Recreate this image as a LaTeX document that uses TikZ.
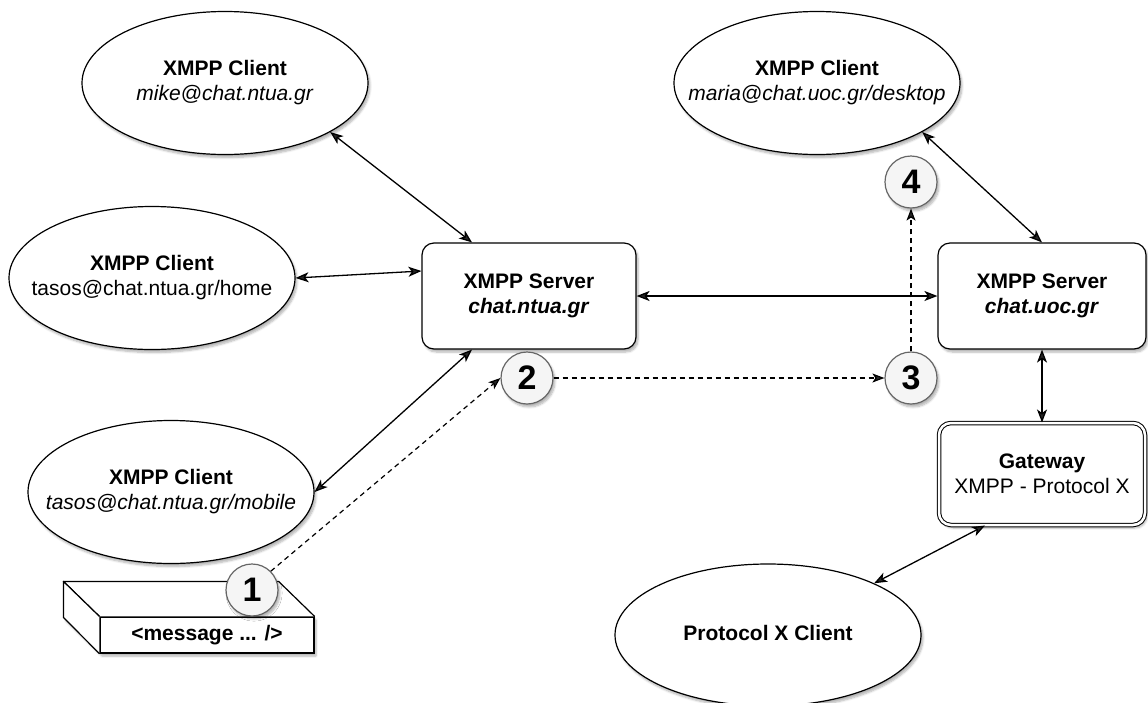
\documentclass[tikz,border=0pt]{standalone}
\usepackage{fontspec}
\setmainfont{Liberation Sans}
\usetikzlibrary{shapes.geometric,arrows.meta,shadows.blur,calc}
\newcommand\ctext[1]{\makebox[0pt]{\begin{tabular}{@{}c@{}}#1\end{tabular}}}
\begin{document}
\begin{tikzpicture}[x=1pt,y=-1pt,
  every node/.style={font=\fontsize{21}{25}\selectfont, align=center, inner sep=0pt},
  sh/.style={blur shadow={shadow xshift=2pt,shadow yshift=-3pt,shadow blur steps=6,shadow opacity=30}},
  client/.style={ellipse, draw, fill=white, line width=1.2pt, minimum width=286pt, minimum height=143pt, sh},
  server/.style={rectangle, rounded corners=12pt, draw, fill=white, line width=1.2pt, minimum width=214pt, minimum height=106pt, sh},
  gate/.style={server, double, double distance=2.5pt, line width=1pt, minimum height=102pt},
  num/.style={circle, draw=black!60, fill=black!4, line width=1.2pt, minimum size=52pt, font=\fontsize{34}{34}\selectfont\bfseries, sh},
  link/.style={line width=1.3pt, {Stealth[length=13pt,width=10pt,inset=3.5pt]}-{Stealth[length=13pt,width=10pt,inset=3.5pt]}},
  flow/.style={line width=1.2pt, dash pattern=on 5pt off 4pt, -{Stealth[length=12pt,width=9pt,inset=3pt]}}
]
\useasboundingbox (0,0) rectangle (1148,702);

% clients
\node[client] (mike) at (225,83) {\ctext{\textbf{XMPP Client}\\\textit{mike@chat.ntua.gr}}};
\node[client] (home) at (152,278) {\ctext{\textbf{XMPP Client}\\tasos@chat.ntua.gr/home}};
\node[client] (mobile) at (171,492) {\ctext{\textbf{XMPP Client}\\\textit{tasos@chat.ntua.gr/mobile}}};
\node[client] (maria) at (817,83) {\ctext{\textbf{XMPP Client}\\\textit{maria@chat.uoc.gr/desktop}}};
\node[client, minimum width=306pt, minimum height=142pt] (protx) at (768,635) {\ctext{\textbf{Protocol X Client}}};

% servers
\node[server] (ntua) at (529,296) {\textbf{XMPP Server}\\\textbf{\textit{chat.ntua.gr}}};
\node[server, minimum width=208pt] (uoc) at (1042,296) {\textbf{XMPP Server}\\\textbf{\textit{chat.uoc.gr}}};
\node[gate, minimum width=206pt] (gw) at (1042,474) {\textbf{Gateway}\\XMPP - Protocol X};

% message box
\coordinate (mc) at (207,635);
\path[fill=white, sh] ($(mc)+(-107,18)$) -- ++(-36,-35) -- ++(0,-36) -- ++(214,0) -- ($(mc)+(107,-18)$) -- ($(mc)+(107,18)$) -- cycle;
\node[draw, line width=1.2pt, minimum width=214pt, minimum height=36pt, font=\fontsize{21}{25}\selectfont\bfseries] (msg) at (mc) {<message ... />};
\draw[line width=1.2pt, fill=white, line join=round] (msg.north west) -- ++(-36,-35) -- ($(msg.north east)+(-36,-35)$) -- (msg.north east);
\draw[line width=1.2pt, fill=white, line join=round] (msg.north west) -- ++(-36,-35) -- ++(0,36) -- (msg.south west);

% connectors
\draw[link] (mike.-25) -- ([xshift=-57pt]ntua.north);
\draw[link] (home.east) -- ([yshift=25pt]ntua.west);
\draw[link] (mobile.east) -- ([xshift=-57pt]ntua.south);
\draw[link] (ntua.east) -- (uoc.west);
\draw[link] (maria.-25) -- (uoc.north);
\draw[link] (uoc.south) -- (gw.north);
\draw[link] ([xshift=-57pt]gw.south) -- (protx.26);

% steps
\node[num] (n1) at (252,590) {1};
\node[num] (n2) at (527,378) {2};
\node[num] (n3) at (911,378) {3};
\node[num] (n4) at (911,182) {4};
\draw[flow] (n1.45) -- (n2.west);
\draw[flow] (n2.east) -- (n3.west);
\draw[flow] (n3.north) -- (n4.south);
\end{tikzpicture}
\end{document}
